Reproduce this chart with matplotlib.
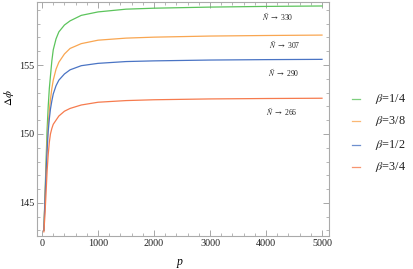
import matplotlib.pyplot as plt
from matplotlib.lines import Line2D
from matplotlib.ticker import MultipleLocator

plt.rcParams["font.family"] = "Liberation Serif"
plt.rcParams["mathtext.fontset"] = "stix"
plt.rcParams["xtick.direction"] = "in"
plt.rcParams["ytick.direction"] = "in"

# data
p = [32, 50, 70, 90, 110, 130, 150, 175, 200, 250, 300, 400, 500, 700,
     1000, 1500, 2000, 3000, 4000, 5000]
dphi_14 = [143.0, 145.2, 147.8, 150.3, 152.0, 153.3, 154.2, 155.3, 156.1, 156.9,
           157.4, 157.9, 158.2, 158.6, 158.85, 159.05, 159.12, 159.2, 159.25, 159.28]
dphi_38 = [143.0, 145.0, 147.3, 149.3, 150.7, 151.7, 152.5, 153.3, 153.9, 154.7,
           155.2, 155.8, 156.2, 156.55, 156.8, 156.95, 157.02, 157.1, 157.14, 157.17]
dphi_12 = [143.0, 144.9, 147.0, 148.8, 150.2, 151.1, 151.8, 152.4, 152.9, 153.5,
           153.9, 154.35, 154.65, 154.95, 155.12, 155.25, 155.3, 155.36, 155.39, 155.41]
dphi_34 = [142.9, 144.0, 145.6, 147.3, 148.5, 149.4, 150.0, 150.4, 150.7, 151.0,
           151.3, 151.65, 151.85, 152.1, 152.3, 152.42, 152.48, 152.54, 152.57, 152.59]

series = [dphi_14, dphi_38, dphi_12, dphi_34]
labels = [r"$\beta$=1/4", r"$\beta$=3/8", r"$\beta$=1/2", r"$\beta$=3/4"]
colors = ["#5cc45c", "#f9a651", "#4a74c4", "#f67b4e"]

n_limits = ["330", "307", "290", "266"]
n_pos = [(4210, 158.48), (4330, 156.45), (4310, 154.44), (4290, 151.62)]

fig = plt.figure(figsize=(4.14, 2.69), dpi=100)
ax = fig.add_axes([0.0894, 0.1227, 0.7053, 0.8699])

for y, c in zip(series, colors):
    ax.plot(p, y, color=c, lw=0.9)

for txt, (xx, yy) in zip(n_limits, n_pos):
    ax.text(xx, yy, r"$\tilde{N}$ $\rightarrow$ " + txt, fontsize=5.5,
            ha="center", va="center", color="#222222")

ax.set_xlim(-90, 5125)
ax.set_ylim(142.6, 159.57)
ax.xaxis.set_major_locator(MultipleLocator(1000))
ax.xaxis.set_minor_locator(MultipleLocator(200))
ax.yaxis.set_major_locator(MultipleLocator(5))
ax.yaxis.set_minor_locator(MultipleLocator(1))
ax.tick_params(which="both", top=True, right=True, color="#999999",
               labelsize=7.3, labelcolor="#222222", pad=2)
ax.tick_params(which="major", length=4, width=0.6)
ax.tick_params(which="minor", length=2, width=0.5)
for s in ax.spines.values():
    s.set_color("#aaaaaa")
    s.set_linewidth(0.8)

ax.set_xlabel("p", style="italic", fontsize=8.5)
ax.xaxis.set_label_coords(0.49, -0.085)
ax.set_ylabel(r"$\Delta\phi$", fontsize=8)
ax.yaxis.set_label_coords(-0.072, 0.59)

# legend drawn by hand to the right of the frame
rows = [98.7, 121.3, 145.0, 166.7]
W, H = 414, 269
for yy, c, lab in zip(rows, colors, labels):
    fig.add_artist(Line2D([352 / W, 360 / W], [1 - yy / H, 1 - yy / H],
                          color=c, lw=0.9, alpha=0.8))
    fig.text(375 / W, 1 - yy / H, lab, fontsize=8.8, va="center", ha="left",
             color="#222222")

fig.savefig("out.png", dpi=100)
